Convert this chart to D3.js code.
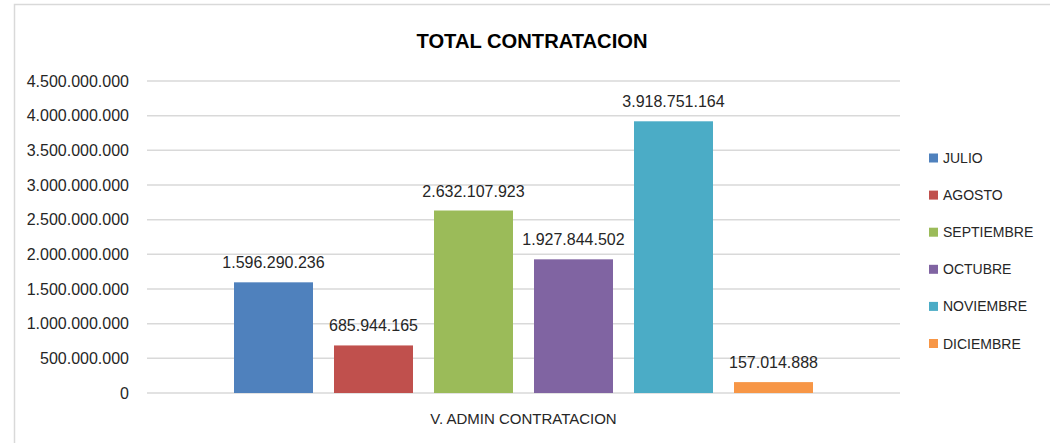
<!DOCTYPE html>
<html>
<head>
<meta charset="utf-8">
<script src="https://cdn.jsdelivr.net/npm/d3@7"></script>
<style>
  html, body { margin: 0; padding: 0; background: #fff; }
  svg { display: block; font-family: "Liberation Sans", Arial, sans-serif; }
</style>
</head>
<body>
<svg id="chart" width="1050" height="443"></svg>
<script>
const title = "TOTAL CONTRATACION";
const categories = ["V. ADMIN CONTRATACION"];
const months = ["JULIO", "AGOSTO", "SEPTIEMBRE", "OCTUBRE", "NOVIEMBRE", "DICIEMBRE"];
const values = [1596290236, 685944165, 2632107923, 1927844502, 3918751164, 157014888];
const colors = ["#4F81BD", "#C0504D", "#9BBB59", "#8064A2", "#4BACC6", "#F79646"];
const yTicks = [0, 500000000, 1000000000, 1500000000, 2000000000, 2500000000, 3000000000, 3500000000, 4000000000, 4500000000];

const svg = d3.select("#chart");
const W = 1050, H = 443;
const plot = { left: 147, right: 900, top: 81, bottom: 393 };
const textColor = "#262626";

const loc = d3.formatLocale({ decimal: ",", thousands: ".", grouping: [3], currency: ["", ""] });
const fmt = loc.format(",d");

// chart border
svg.append("rect")
  .attr("x", 14.5).attr("y", 4.5)
  .attr("width", W + 20).attr("height", H + 20)
  .attr("fill", "#fff").attr("stroke", "#d9d9d9").attr("stroke-width", 1.5);

// title
svg.append("text")
  .attr("x", 532).attr("y", 48)
  .attr("text-anchor", "middle")
  .attr("font-size", 21).attr("font-weight", "bold")
  .attr("textLength", 231).attr("lengthAdjust", "spacingAndGlyphs")
  .attr("fill", "#000")
  .text(title);

const y = d3.scaleLinear().domain([0, 4500000000]).range([plot.bottom, plot.top]);
const x0 = d3.scaleBand().domain(categories).range([plot.left, plot.right]);
const x1 = d3.scaleBand().domain(months).range([0, x0.bandwidth()])
  .paddingInner(0.21).paddingOuter(0.87);

// gridlines
svg.append("g").selectAll("line").data(yTicks).join("line")
  .attr("x1", plot.left).attr("x2", plot.right)
  .attr("y1", d => y(d)).attr("y2", d => y(d))
  .attr("stroke", "#d9d9d9").attr("stroke-width", 1.5);

// y axis labels
const yAxis = d3.axisLeft(y).tickValues(yTicks).tickFormat(fmt).tickSize(0).tickPadding(18);
const ya = svg.append("g").attr("transform", `translate(${plot.left},0)`).call(yAxis);
ya.select(".domain").remove();
ya.selectAll("text").attr("font-size", 16).attr("fill", textColor)
  .attr("font-family", "Liberation Sans, Arial, sans-serif");

// bars
const g = svg.append("g").attr("transform", `translate(${x0(categories[0])},0)`);
g.selectAll("rect").data(months).join("rect")
  .attr("x", d => x1(d))
  .attr("width", x1.bandwidth())
  .attr("y", (d, i) => y(values[i]))
  .attr("height", (d, i) => y(0) - y(values[i]))
  .attr("fill", (d, i) => colors[i]);

// data labels
g.selectAll("text.lbl").data(months).join("text")
  .attr("class", "lbl")
  .attr("x", d => x1(d) + x1.bandwidth() / 2)
  .attr("y", (d, i) => y(values[i]) - 14)
  .attr("text-anchor", "middle")
  .attr("font-size", 16).attr("fill", textColor)
  .text((d, i) => fmt(values[i]));

// category axis label
svg.append("g").selectAll("text").data(categories).join("text")
  .attr("x", d => x0(d) + x0.bandwidth() / 2)
  .attr("y", 424)
  .attr("text-anchor", "middle")
  .attr("font-size", 15).attr("fill", textColor)
  .text(d => d);

// legend
const lg = svg.append("g").selectAll("g").data(months).join("g")
  .attr("transform", (d, i) => `translate(929, ${158 + i * 37.1})`);
lg.append("rect").attr("x", 0).attr("y", -4.5).attr("width", 9).attr("height", 9)
  .attr("fill", (d, i) => colors[i]);
lg.append("text").attr("x", 14).attr("y", 0).attr("dy", "0.36em")
  .attr("font-size", 14).attr("fill", textColor)
  .text(d => d);
</script>
</body>
</html>
